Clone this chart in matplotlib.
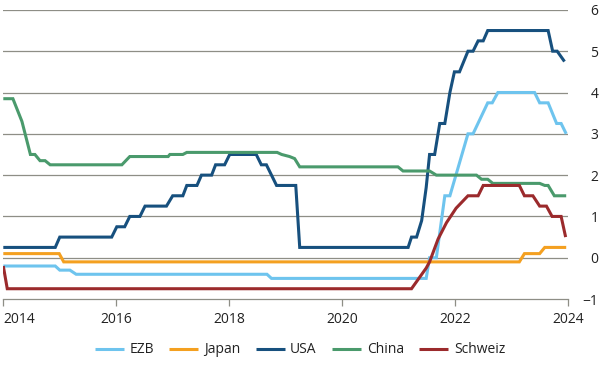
import matplotlib
matplotlib.use("Agg")
import matplotlib.pyplot as plt

plt.rcParams['font.family'] = ['Open Sans', 'DejaVu Sans']
plt.rcParams['font.size'] = 10

# Leitzinsen, x in Jahren
ezb_x = [2014.0, 2014.92, 2015.0, 2015.18, 2015.29, 2018.67, 2018.75, 2021.49, 2021.55,
         2021.67, 2021.82, 2021.91, 2022.23, 2022.32, 2022.58, 2022.66, 2022.76, 2023.41,
         2023.50, 2023.65, 2023.80, 2023.88, 2023.97]
ezb_y = [-0.2, -0.2, -0.3, -0.3, -0.4, -0.4, -0.5, -0.5, 0.0,
         0.0, 1.5, 1.5, 3.0, 3.0, 3.75, 3.75, 4.0, 4.0,
         3.75, 3.75, 3.25, 3.25, 3.0]

japan_x = [2014.0, 2014.99, 2015.07, 2023.14, 2023.23, 2023.50, 2023.59, 2023.97]
japan_y = [0.1, 0.1, -0.1, -0.1, 0.1, 0.1, 0.25, 0.25]

usa_x = [2014.0, 2014.92, 2015.0, 2015.92, 2016.01, 2016.15, 2016.24, 2016.42, 2016.51,
         2016.89, 2017.0, 2017.18, 2017.25, 2017.43, 2017.51, 2017.69, 2017.76, 2017.92,
         2018.01, 2018.48, 2018.57, 2018.66, 2018.84, 2019.18, 2019.25, 2021.17, 2021.23,
         2021.32, 2021.41, 2021.49, 2021.55, 2021.64, 2021.73, 2021.82, 2021.91, 2021.99,
         2022.08, 2022.23, 2022.32, 2022.41, 2022.50, 2022.58, 2023.65, 2023.73, 2023.81,
         2023.94]
usa_y = [0.25, 0.25, 0.5, 0.5, 0.75, 0.75, 1.0, 1.0, 1.25,
         1.25, 1.5, 1.5, 1.75, 1.75, 2.0, 2.0, 2.25, 2.25,
         2.5, 2.5, 2.25, 2.25, 1.75, 1.75, 0.25, 0.25, 0.5,
         0.5, 0.9, 1.7, 2.5, 2.5, 3.25, 3.25, 4.0, 4.5,
         4.5, 5.0, 5.0, 5.25, 5.25, 5.5, 5.5, 5.0, 5.0,
         4.75]

china_x = [2014.0, 2014.17, 2014.33, 2014.48, 2014.56, 2014.65, 2014.74, 2014.83, 2016.10,
           2016.24, 2016.92, 2016.95, 2017.18, 2017.25, 2018.85, 2018.93, 2019.07, 2019.16,
           2019.25, 2020.99, 2021.08, 2021.55, 2021.67, 2022.38, 2022.47, 2022.58, 2022.67,
           2023.50, 2023.59, 2023.65, 2023.76, 2023.97]
china_y = [3.85, 3.85, 3.3, 2.5, 2.5, 2.35, 2.35, 2.25, 2.25,
           2.45, 2.45, 2.5, 2.5, 2.55, 2.55, 2.5, 2.45, 2.4,
           2.2, 2.2, 2.1, 2.1, 2.0, 2.0, 1.9, 1.9, 1.8,
           1.8, 1.75, 1.75, 1.5, 1.5]

schweiz_x = [2014.0, 2014.07, 2021.23, 2021.49, 2021.55, 2021.70, 2021.85, 2022.02, 2022.23,
             2022.41, 2022.50, 2023.14, 2023.23, 2023.38, 2023.50, 2023.62, 2023.72, 2023.88,
             2023.96]
schweiz_y = [-0.2, -0.75, -0.75, -0.25, -0.1, 0.45, 0.85, 1.2, 1.5,
             1.5, 1.75, 1.75, 1.5, 1.5, 1.25, 1.25, 1.0, 1.0,
             0.5]

x_ticks = [2014, 2016, 2018, 2020, 2022, 2024]
y_ticks = [-1, 0, 1, 2, 3, 4, 5, 6]

series = [
    ("EZB", ezb_x, ezb_y, "#6ec4ee"),
    ("Japan", japan_x, japan_y, "#f4a020"),
    ("USA", usa_x, usa_y, "#17507e"),
    ("China", china_x, china_y, "#4a9a6c"),
    ("Schweiz", schweiz_x, schweiz_y, "#9b2a2c"),
]

fig = plt.figure(figsize=(6, 3.8), dpi=100)
ax = fig.add_axes([0.0055, 0.213, 0.941, 0.761])

for lab, xs, ys, col in series:
    ax.plot(xs, ys, color=col, linewidth=2.2, label=lab, solid_joinstyle='miter',
            solid_capstyle='butt')

ax.set_xlim(2014, 2024)
ax.set_ylim(-1, 6)
ax.set_xticks(x_ticks)
ax.set_yticks(y_ticks)

# horizontale Gitterlinien
for v in y_ticks[1:]:
    ax.axhline(v, color="#8e8e86", linewidth=0.9, zorder=0)

for s in ["top", "left", "right"]:
    ax.spines[s].set_visible(False)
ax.spines["bottom"].set_color("#8e8e86")
ax.spines["bottom"].set_linewidth(0.9)

ax.tick_params(axis="x", length=5, width=0.9, color="#8e8e86", colors="#222222",
               labelsize=10, pad=4)
# erstes Label linksbündig, damit es nicht abgeschnitten wird
ax.get_xticklabels()[0].set_horizontalalignment("left")

ax.yaxis.tick_right()
ax.tick_params(axis="y", length=0, pad=22, labelsize=10, colors="#222222")
ax.set_yticklabels([str(v).replace("-", "\u2212") for v in y_ticks])
for t in ax.get_yticklabels():
    t.set_horizontalalignment("right")

fig.legend(loc="center", bbox_to_anchor=(0.5, 0.079), ncol=5, frameon=False,
           handlelength=2.1, columnspacing=1.1, handletextpad=0.4, fontsize=10,
           labelcolor="#222222")

fig.savefig("out.png", dpi=100)
